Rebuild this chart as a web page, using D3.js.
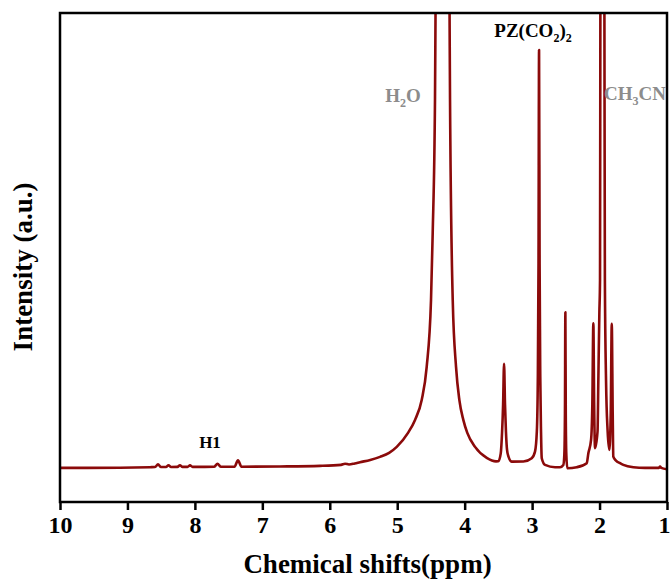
<!DOCTYPE html>
<html>
<head>
<meta charset="utf-8">
<script src="https://cdn.jsdelivr.net/npm/d3@7"></script>
<style>
  html, body { margin: 0; padding: 0; background: #fff; }
  svg { display: block; }
  text { font-family: "Liberation Serif", "Times New Roman", serif; font-weight: bold; }
</style>
</head>
<body>
<svg id="chart" width="670" height="580"></svg>
<script>
// 1H NMR trace: chemical shift (ppm) and intensity (a.u., baseline = 0)
const shifts = [
  10.00, 9.110, 8.665, 8.591, 8.547, 8.502, 8.428, 8.391, 8.354, 8.258,
  8.221, 8.184, 8.109, 8.072, 8.035, 7.717, 7.665, 7.613, 7.413, 7.361,
  7.309, 6.738, 6.145, 5.833, 5.774, 5.715, 5.630, 5.552, 5.400, 5.255,
  5.120, 5.007, 4.840,
  4.736, 4.637, 4.563, 4.499, 4.474, 4.440, 4.432, 4.328, 4.224, 4.217,
  4.177, 4.128, 4.079, 4.020, 3.961, 3.846, 3.673, 3.535, 3.501, 3.465,
  3.445, 3.430, 3.416, 3.402, 3.388, 3.372, 3.353, 3.302, 3.130, 3.006,
  2.957, 2.930, 2.915, 2.905, 2.897, 2.889, 2.879, 2.868, 2.857, 2.808,
  2.660, 2.586, 2.537, 2.522, 2.513, 2.507, 2.501, 2.493, 2.478, 2.338,
  2.190, 2.166, 2.126, 2.107, 2.092, 2.080, 2.067, 2.030, 2.018, 2.003,
  1.993, 1.988, 1.959, 1.928, 1.921, 1.904, 1.880, 1.855, 1.834, 1.819,
  1.805, 1.796, 1.756, 1.696, 1.647, 1.499, 1.326, 1.120, 1.103, 1.085,
  1.000
];
const intensities = [
  0.00, 0.04, 0.15, 0.18, 0.77, 0.18, 0.20, 0.59, 0.20, 0.22,
  0.59, 0.22, 0.22, 0.55, 0.22, 0.24, 0.88, 0.24, 0.26, 1.65,
  0.26, 0.31, 0.44, 0.66, 0.92, 0.74, 0.98, 1.25, 1.75, 2.42,
  3.30, 4.62, 7.69,
  10.55, 14.95, 22.2, 36.9, 51.65, 80.9, 100, 250, 100, 80.9,
  36.9, 22.2, 14.95, 10.55, 7.69, 4.62, 2.20, 1.43, 1.45, 3.2,
  8.0, 14.0, 22.86, 14.0, 8.0, 4.0, 2.6, 1.38, 1.40, 2.13,
  3.58, 8.0, 20.0, 45.0, 91.87, 45.0, 20.0, 8.0, 2.13, 0.66,
  0.15, 0.15, 0.66, 3.0, 12.0, 34.22, 12.0, 3.0, -0.07, 0.15,
  1.03, 3.23, 6.15, 14.0, 31.80, 14.0, 4.33, 8.0, 19.34, 34.0,
  41.3, 100, 250, 100, 41.3, 19.34, 8.0, 3.96, 12.0, 31.65,
  12.0, 2.48, 1.60, 1.03, 0.66, 0.15, 0.00, 0.00, 0.30, 0.00,
  -0.29
];
const tickValues = [10, 9, 8, 7, 6, 5, 4, 3, 2, 1];
const xTitle = "Chemical shifts(ppm)";
const yTitle = "Intensity (a.u.)";

const svg = d3.select("#chart");
const plotLeft = 60, plotRight = 667, plotTop = 13, plotBottom = 502;

const x = d3.scaleLinear().domain([10, 1]).range([plotLeft, plotRight]);
const y = d3.scaleLinear().domain([-7.5, 100]).range([plotBottom, plotTop]);

const points = shifts.map((s, i) => [s, intensities[i]]);

svg.append("defs").append("clipPath").attr("id", "plotClip")
  .append("rect")
  .attr("x", plotLeft).attr("y", plotTop)
  .attr("width", plotRight - plotLeft).attr("height", plotBottom - plotTop);

// spectrum
const line = d3.line()
  .x(d => x(d[0]))
  .y(d => y(d[1]))
  .curve(d3.curveMonotoneX);

svg.append("path")
  .datum(points)
  .attr("clip-path", "url(#plotClip)")
  .attr("fill", "none")
  .attr("stroke", "#8b0a0a")
  .attr("stroke-width", 2.6)
  .attr("stroke-linejoin", "round")
  .attr("d", line);

// bottom axis
const xAxis = d3.axisBottom(x)
  .tickValues(tickValues)
  .tickFormat(d3.format("d"))
  .tickSize(8)
  .tickSizeOuter(0)
  .tickPadding(6);

const gx = svg.append("g")
  .attr("transform", `translate(0,${plotBottom})`)
  .call(xAxis);
gx.select(".domain").remove();
gx.selectAll(".tick line").attr("stroke", "#000").attr("stroke-width", 2.5);
gx.selectAll(".tick text")
  .attr("fill", "#000")
  .style("font-size", "24px")
  .style("font-family", "'Liberation Serif', 'Times New Roman', serif")
  .style("font-weight", "bold");
// keep the last label inside the canvas edge
gx.selectAll(".tick text").filter(d => d === 1).attr("dx", -3);

// frame
svg.append("rect")
  .attr("x", plotLeft).attr("y", plotTop)
  .attr("width", plotRight - plotLeft).attr("height", plotBottom - plotTop)
  .attr("fill", "none")
  .attr("stroke", "#000")
  .attr("stroke-width", 2.5);

// axis titles
svg.append("text")
  .attr("x", (plotLeft + plotRight) / 2 + 4)
  .attr("y", 573)
  .attr("text-anchor", "middle")
  .style("font-size", "27px")
  .text(xTitle);

svg.append("text")
  .attr("transform", "translate(32,267) rotate(-90)")
  .attr("text-anchor", "middle")
  .style("font-size", "27px")
  .text(yTitle);

// peak annotations
function label(parts, px, py, anchor, color, size) {
  const t = svg.append("text")
    .attr("x", px).attr("y", py)
    .attr("text-anchor", anchor)
    .attr("fill", color)
    .style("font-size", size + "px");
  let shift = 0;
  parts.forEach(p => {
    const sub = p.sub === true;
    const dy = sub ? 5 - shift : -shift;
    shift = sub ? 5 : 0;
    t.append("tspan")
      .attr("dy", dy)
      .style("font-size", (sub ? Math.round(size * 0.62) : size) + "px")
      .text(p.t);
  });
  return t;
}

label([{t: "H1"}], 210, 448, "middle", "#000", 17);
label([{t: "H"}, {t: "2", sub: true}, {t: "O"}], 403, 102, "middle", "#8c8c8c", 19);
label([{t: "PZ(CO"}, {t: "2", sub: true}, {t: ")"}, {t: "2", sub: true}], 533, 37, "middle", "#000", 19);
label([{t: "CH"}, {t: "3", sub: true}, {t: "CN"}], 604, 100, "start", "#8c8c8c", 19);
</script>
</body>
</html>
